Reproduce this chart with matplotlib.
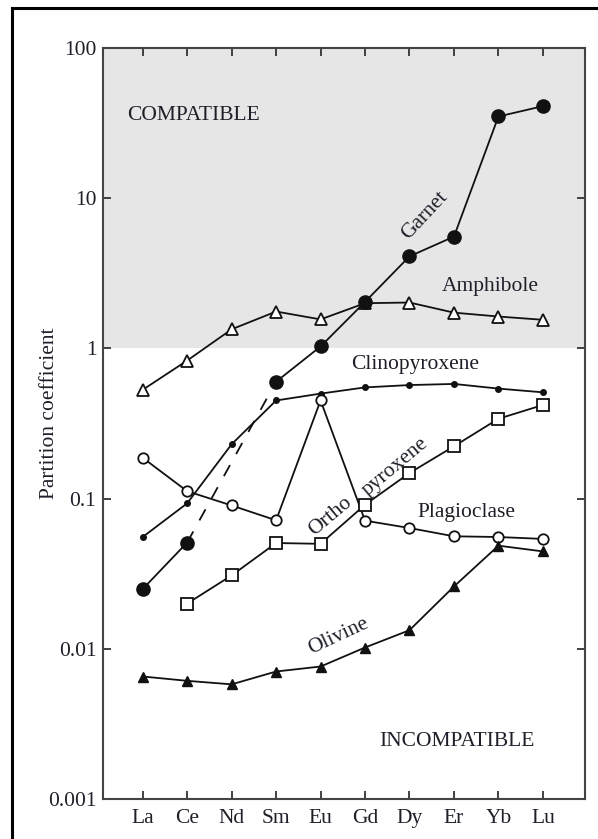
import matplotlib
matplotlib.use("Agg")
import matplotlib.pyplot as plt
from matplotlib.patches import Rectangle
import numpy as np

elements = ["La", "Ce", "Nd", "Sm", "Eu", "Gd", "Dy", "Er", "Yb", "Lu"]

garnet_a_idx = [0, 1]
garnet_a = [0.025, 0.051]
garnet_b_idx = [3, 4, 5, 6, 7, 8, 9]
garnet_b = [0.60, 1.03, 2.04, 4.1, 5.55, 35, 41]

amphibole = [0.53, 0.83, 1.34, 1.76, 1.56, 2.0, 2.02, 1.73, 1.63, 1.55]
clinopyroxene = [0.0555, 0.093, 0.23, 0.45, 0.50, 0.55, 0.57, 0.58, 0.54, 0.51]
plagioclase = [0.187, 0.112, 0.090, 0.0717, 0.45, 0.0713, 0.0637, 0.0561, 0.0555, 0.0539]
opx_idx = [1, 2, 3, 4, 5, 6, 7, 8, 9]
orthopyroxene = [0.020, 0.0308, 0.0506, 0.050, 0.091, 0.148, 0.223, 0.34, 0.42]
olivine = [0.00654, 0.00612, 0.0058, 0.00706, 0.00762, 0.0102, 0.0133, 0.026, 0.0486, 0.0445]

ytick_vals = [0.001, 0.01, 0.1, 1, 10, 100]
ytick_labels = ["0.001", "0.01", "0.1", "1", "10", "100"]

plt.rcParams['font.family'] = ['Liberation Serif', 'DejaVu Serif']
TXT = "#1f1f2a"
LC = "#111111"
FS = 15.5

fig = plt.figure(figsize=(5.98, 8.39), dpi=100)
W, H = 598, 839
ax = fig.add_axes([103.3 / W, 1 - 799 / H, (584.7 - 103.3) / W, (799 - 48) / H])

# outer border
fig.patches.append(Rectangle((12 / W, -0.05), 1.2, 1 - 8 / H + 0.05, transform=fig.transFigure,
                             fill=False, edgecolor="black", linewidth=2.2, zorder=10))

ax.set_yscale("log")
ax.set_ylim(0.001, 100)
ax.set_xlim(-0.886, 9.94)
ax.axhspan(1, 100, color="#e6e6e6", zorder=0, linewidth=0)

x = np.arange(len(elements))
lw = 1.3

ax.plot(garnet_a_idx, garnet_a, "-o", color=LC, lw=lw, ms=9.5, mfc=LC, mec=LC, zorder=5)
ax.plot([garnet_a_idx[-1], garnet_b_idx[0]], [garnet_a[-1], garnet_b[0]], color=LC, lw=lw,
        dashes=(7, 7), zorder=4)
ax.plot(garnet_b_idx, garnet_b, "-o", color=LC, lw=lw, ms=9.5, mfc=LC, mec=LC, zorder=5)

ax.plot(x, amphibole, "-^", color=LC, lw=lw, ms=8.5, mfc="white", mec=LC, mew=1.3, zorder=4)
ax.plot(x, clinopyroxene, "-o", color=LC, lw=lw, ms=4, mfc=LC, mec=LC, zorder=4)
ax.plot(x, plagioclase, "-o", color=LC, lw=lw, ms=7.5, mfc="white", mec=LC, mew=1.3, zorder=4)
ax.plot(opx_idx, orthopyroxene, "-s", color=LC, lw=lw, ms=8, mfc="white", mec=LC, mew=1.3, zorder=4)
ax.plot(x, olivine, "-^", color=LC, lw=lw, ms=7, mfc=LC, mec=LC, zorder=4)

ax.set_xticks(x)
ax.set_xticklabels(elements)
ax.set_yticks(ytick_vals)
ax.set_yticklabels(ytick_labels)
ax.minorticks_off()
ax.tick_params(axis="both", which="major", direction="in", length=6, width=1.3,
               labelsize=FS, colors="#333333", labelcolor=TXT, top=True, right=True, pad=5)
ax.tick_params(axis="x", pad=7)
for s in ax.spines.values():
    s.set_linewidth(1.5)
    s.set_color("#444444")

fig.text(50 / W, 1 - 413 / H, "Partition coefficient", rotation=90, ha="center", va="center",
         fontsize=FS, color=TXT)

def lab(px, py, s, rot=0, fs=FS):
    fig.text(px / W, 1 - py / H, s, ha="center", va="center", rotation=rot,
             rotation_mode="anchor", fontsize=fs, color=TXT)

lab(193, 115, "COMPATIBLE")
lab(425, 216, "Garnet", rot=47)
lab(490, 287, "Amphibole")
lab(415, 364, "Clinopyroxene")
lab(330, 516, "Ortho", rot=40)
lab(395, 467, "pyroxene", rot=40)
lab(466, 512, "Plagioclase")
lab(338, 636, "Olivine", rot=25)
lab(457, 742, "INCOMPATIBLE")

fig.savefig("out.png", dpi=100)
